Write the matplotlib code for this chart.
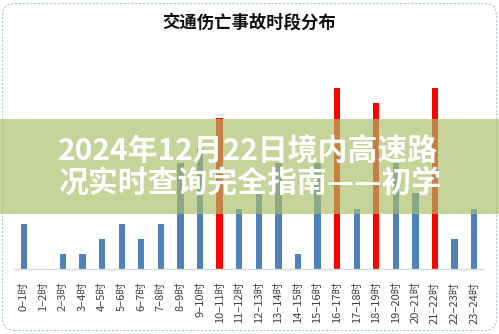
import matplotlib.pyplot as plt
from matplotlib.patches import Rectangle, FancyBboxPatch

plt.rcParams['font.family'] = ['Noto Sans CJK SC', 'DejaVu Sans']

# accidents per hour of day
hours = [f"{h}–{h + 1}时" for h in range(24)]
counts = [3, 0, 1, 1, 2, 3, 2, 3, 7, 8, 10, 4,
          5, 7, 1, 7, 12, 4, 11, 7, 5, 12, 2, 4]

title = "交通伤亡事故时段分布"
banner = ["2024年12月22日境内高速路", "况实时查询完全指南——初学"]

W, H = 499, 334
fig = plt.figure(figsize=(W / 100, H / 100), dpi=100)

ax = fig.add_axes([14 / W, 65 / H, 470 / W, 192 / H])
x = range(len(counts))
colors = ['#FF0000' if c >= 10 else '#4F81BD' for c in counts]
ax.bar(x, counts, width=0.32, color=colors, zorder=2)
ax.set_xlim(-0.5, 23.5)
ax.set_ylim(0, 12.7)
ax.set_xticks(list(x))
ax.set_xticklabels(hours, rotation=90, fontsize=8, color='#404040', va='top')
ax.tick_params(axis='x', length=0, pad=9)
ax.set_yticks([])
for s in ['top', 'right', 'left']:
    ax.spines[s].set_visible(False)
ax.spines['bottom'].set_color('#D9D9D9')
ax.spines['bottom'].set_linewidth(1)

fig.text(0.5, 1 - 23 / H, title, ha='center', va='center',
         fontsize=12.5, fontweight='bold', color='#111111')

# dashed rounded frame
frame = FancyBboxPatch((0.025, 0.035), 4.94, 3.27,
                       boxstyle='round,pad=0,rounding_size=0.12',
                       transform=fig.dpi_scale_trans, fill=False,
                       edgecolor='#A9CAD8', lw=0.8, linestyle=(0, (2, 1.5)))
fig.patches.append(frame)

# translucent banner across the middle
band = Rectangle((0, (H - 214) / H), 1, 95 / H, transform=fig.transFigure,
                 facecolor=(170 / 255, 191 / 255, 104 / 255), alpha=0.67,
                 edgecolor='none', zorder=5)
fig.patches.append(band)

for i, line in enumerate(banner):
    fig.text(58 / W, 1 - (150 + 33 * i) / H, line, ha='left', va='center',
             fontsize=21.5, fontweight='bold', color='white', zorder=6)

fig.savefig('out.png', dpi=100)
